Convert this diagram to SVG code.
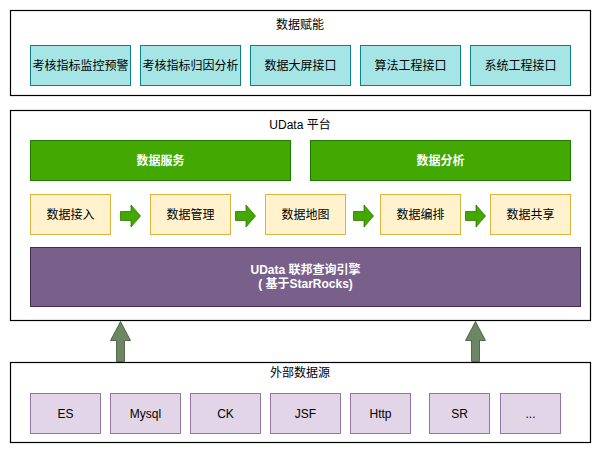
<svg xmlns="http://www.w3.org/2000/svg" width="601" height="454" viewBox="0 0 601 454">
<style>
text{font-family:"Liberation Sans","Noto Sans CJK SC",sans-serif;font-size:12px;text-anchor:middle;dominant-baseline:central;fill:#000}
.frame{fill:#fff;stroke:#000;stroke-width:1.2}
.cyan{fill:#a6e5e6;stroke:#0e8088}
.green{fill:#43a802;stroke:#1f7a00}
.yellow{fill:#fff2cc;stroke:#ddb440}
.engine{fill:#79608b;stroke:#432d57}
.src{fill:#e1d5e7;stroke:#9673a6}
.w{fill:#fff;font-weight:bold}
.flow{fill:#43a802;stroke:#2d7600;stroke-width:0.8}
.up{fill:#6d8764;stroke:#3a5431;stroke-width:0.8}
</style>
<g id="empower">
<rect class="frame" x="10.5" y="10.5" width="580" height="85"/>
<text x="300" y="25">数据赋能</text>
</g>
<g id="e1"><rect class="cyan" x="30.5" y="45.5" width="100" height="40"/><text x="80.5" y="65.5">考核指标监控预警</text></g>
<g id="e2"><rect class="cyan" x="140.5" y="45.5" width="100" height="40"/><text x="190.5" y="65.5">考核指标归因分析</text></g>
<g id="e3"><rect class="cyan" x="250.5" y="45.5" width="100" height="40"/><text x="300.5" y="65.5">数据大屏接口</text></g>
<g id="e4"><rect class="cyan" x="360.5" y="45.5" width="100" height="40"/><text x="410.5" y="65.5">算法工程接口</text></g>
<g id="e5"><rect class="cyan" x="470.5" y="45.5" width="100" height="40"/><text x="520.5" y="65.5">系统工程接口</text></g>

<g id="platform">
<rect class="frame" x="10.5" y="110.5" width="580" height="210"/>
<text x="300" y="125">UData 平台</text>
</g>
<g id="svc"><rect class="green" x="30.5" y="140.5" width="260" height="40"/><text class="w" x="160.5" y="160.5">数据服务</text></g>
<g id="ana"><rect class="green" x="310.5" y="140.5" width="260" height="40"/><text class="w" x="440.5" y="160.5">数据分析</text></g>
<g id="p1"><rect class="yellow" x="30.5" y="194.5" width="80" height="40"/><text x="70.5" y="214.5">数据接入</text></g>
<g id="p2"><rect class="yellow" x="150.5" y="194.5" width="80" height="40"/><text x="190.5" y="214.5">数据管理</text></g>
<g id="p3"><rect class="yellow" x="265.5" y="194.5" width="80" height="40"/><text x="305.5" y="214.5">数据地图</text></g>
<g id="p4"><rect class="yellow" x="380.5" y="194.5" width="80" height="40"/><text x="420.5" y="214.5">数据编排</text></g>
<g id="p5"><rect class="yellow" x="490.5" y="194.5" width="80" height="40"/><text x="530.5" y="214.5">数据共享</text></g>
<g id="engine"><rect class="engine" x="30.5" y="247.5" width="550" height="59"/>
<text class="w" x="305.5" y="270">UData 联邦查询引擎</text>
<text class="w" x="305.5" y="284">( 基于StarRocks)</text></g>

<g id="sources">
<rect class="frame" x="10.5" y="362.5" width="580" height="80"/>
<text x="300" y="373">外部数据源</text>
</g>
<g id="s1"><rect class="src" x="30.5" y="393.5" width="70" height="40"/><text x="65.5" y="413.5">ES</text></g>
<g id="s2"><rect class="src" x="110.5" y="393.5" width="70" height="40"/><text x="145.5" y="413.5">Mysql</text></g>
<g id="s3"><rect class="src" x="190.5" y="393.5" width="70" height="40"/><text x="225.5" y="413.5">CK</text></g>
<g id="s4"><rect class="src" x="270.5" y="393.5" width="70" height="40"/><text x="305.5" y="413.5">JSF</text></g>
<g id="s5"><rect class="src" x="350.5" y="393.5" width="60" height="40"/><text x="380.5" y="413.5">Http</text></g>
<g id="s6"><rect class="src" x="429.5" y="393.5" width="60" height="40"/><text x="459.5" y="413.5">SR</text></g>
<g id="s7"><rect class="src" x="500.5" y="393.5" width="60" height="40"/><text x="530.5" y="413.5">...</text></g>

<g id="connectors">
<path class="flow" d="M120.5 211.5H131V205L140.5 216L131 227V220.5H120.5Z"/>
<path class="flow" d="M235.5 211.5H246V205L255.5 216L246 227V220.5H235.5Z"/>
<path class="flow" d="M353.5 211.5H364V205L373.5 216L364 227V220.5H353.5Z"/>
<path class="flow" d="M465.5 211.5H476V205L485.5 216L476 227V220.5H465.5Z"/>
<path class="up" d="M116.5 361.5V340.5H110.5L120.5 321.5L130.5 340.5H124.5V361.5Z"/>
<path class="up" d="M471.5 361.5V340.5H465.5L475.5 321.5L485.5 340.5H479.5V361.5Z"/>
</g>
</svg>
